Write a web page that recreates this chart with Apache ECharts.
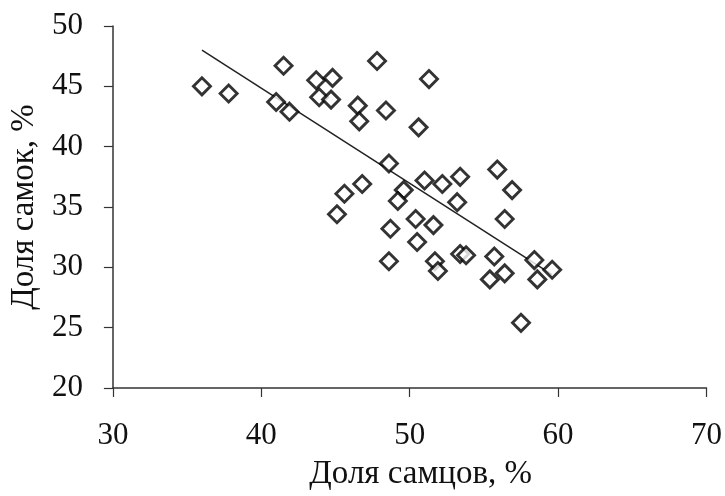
<!DOCTYPE html>
<html>
<head>
<meta charset="utf-8">
<script src="https://cdn.jsdelivr.net/npm/echarts@6/dist/echarts.min.js"></script>
<style>
html,body{margin:0;padding:0;background:#fff;}
#chart{width:725px;height:496px;}
</style>
</head>
<body>
<div id="chart"></div>
<script>
// Доля самцов, % (x) and Доля самок, % (y) for each observation
var maleShare = [36.0, 37.8, 41.0, 41.5, 41.9, 43.7, 43.9, 44.7, 44.8, 46.5, 46.6, 47.8, 48.4, 50.6, 51.3,
                 48.6, 46.8, 45.6, 45.1, 49.6, 49.2, 48.7, 50.4, 50.5, 48.6, 51.0, 52.2, 53.4, 55.9, 56.9,
                 53.2, 51.6, 56.4, 51.7, 51.9, 53.4, 53.8, 55.7, 56.4, 55.4, 58.4, 59.6, 58.6, 57.5];
var femaleShare = [45.0, 44.4, 43.7, 46.7, 42.9, 45.5, 44.1, 43.9, 45.7, 43.4, 42.1, 47.1, 43.0, 41.6, 45.6,
                   38.6, 36.9, 36.1, 34.4, 36.4, 35.5, 33.2, 34.0, 32.1, 30.5, 37.2, 36.9, 37.5, 38.1, 36.4,
                   35.4, 33.5, 34.0, 30.5, 29.7, 31.1, 31.0, 30.9, 29.5, 29.0, 30.6, 29.8, 29.0, 25.4];
// Linear trend line ends
var trendX = [36.0, 59.6];
var trendY = [48.0, 29.4];
// Axis settings
var xMin = 30, xMax = 70, xStep = 10;
var yMin = 20, yMax = 50, yStep = 5;
var xTitle = 'Доля самцов, %';
var yTitle = 'Доля самок, %';

var points = maleShare.map(function (v, i) { return [v, femaleShare[i]]; });
var trend = trendX.map(function (v, i) { return [v, trendY[i]]; });

var font = '"Liberation Serif", "DejaVu Serif", serif';
var axisCommon = {
  axisLine: { show: true, onZero: false, lineStyle: { color: '#333', width: 1.5 } },
  axisTick: { show: true, length: 9, lineStyle: { color: '#333', width: 1.2 } },
  splitLine: { show: false },
  nameLocation: 'middle'
};

var chart = echarts.init(document.getElementById('chart'), null, { renderer: 'canvas' });
chart.setOption({
  animation: false,
  backgroundColor: '#fff',
  grid: { left: 112, right: 18, top: 26, bottom: 104, containLabel: false },
  xAxis: Object.assign({}, axisCommon, {
    type: 'value', min: xMin, max: xMax, interval: xStep,
    name: xTitle, nameGap: 70,
    nameTextStyle: { fontFamily: font, fontSize: 33, color: '#111', padding: [0, 0, 0, 22] },
    axisLabel: { margin: 32, fontFamily: font, fontSize: 31, color: '#111' }
  }),
  yAxis: Object.assign({}, axisCommon, {
    type: 'value', min: yMin, max: yMax, interval: yStep,
    name: yTitle, nameGap: 69, nameRotate: 90,
    nameTextStyle: { fontFamily: font, fontSize: 33, color: '#111' },
    axisLabel: { margin: 30, fontFamily: font, fontSize: 31, color: '#111' }
  }),
  series: [
    {
      type: 'line', data: trend, symbol: 'none', z: 1,
      lineStyle: { color: '#222', width: 1.5 }
    },
    {
      type: 'scatter', data: points, symbol: 'diamond', symbolSize: 17, z: 3,
      itemStyle: { color: '#fff', borderColor: '#000', borderWidth: 2.9 }
    }
  ]
});
</script>
</body>
</html>
